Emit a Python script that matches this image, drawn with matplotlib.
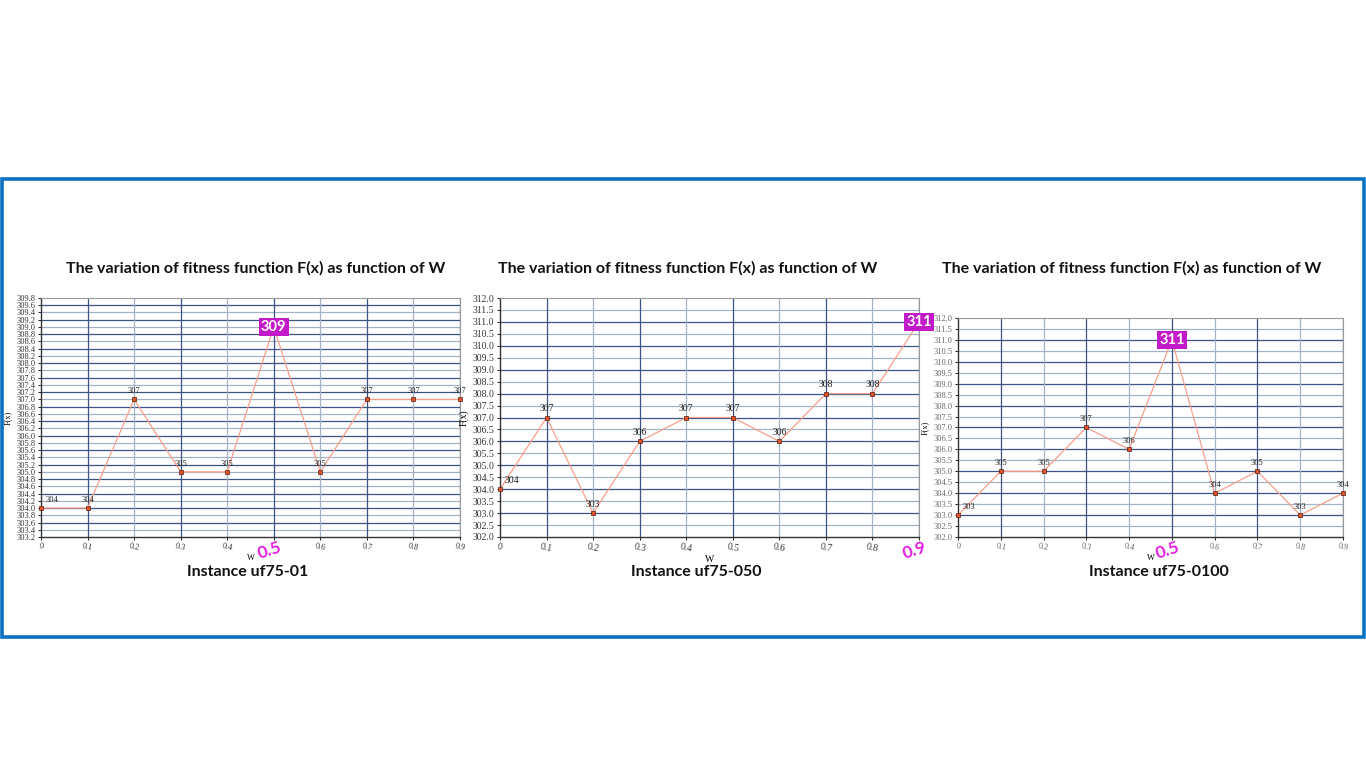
import numpy as np
import matplotlib.pyplot as plt

# data
w = [0.0, 0.1, 0.2, 0.3, 0.4, 0.5, 0.6, 0.7, 0.8, 0.9]
fx_01 = [304, 304, 307, 305, 305, 309, 305, 307, 307, 307]
fx_050 = [304, 307, 303, 306, 307, 307, 306, 308, 308, 311]
fx_0100 = [303, 305, 305, 307, 306, 311, 304, 305, 303, 304]

title = "The variation of fitness function F(x) as function of W"
instances = ["Instance uf75-01", "Instance uf75-050", "Instance uf75-0100"]
y_limits = [(303.2, 309.8), (302.0, 312.0), (302.0, 312.0)]
y_steps = [0.2, 0.5, 0.5]

W, H = 1366, 768
fig = plt.figure(figsize=(W / 100, H / 100), dpi=100)

# blue frame around the three panels
frame = plt.Rectangle((1.5 / W, 1 - 637 / H), 1362 / W, 458 / H,
                      transform=fig.transFigure, fill=False,
                      edgecolor="#0B72C0", linewidth=2.6)
fig.add_artist(frame)

# axes boxes in pixels: left, top, right, bottom
boxes = [(41, 298, 460, 537), (500, 298, 919, 537), (958, 318, 1343, 537)]
title_x = [256, 688, 1132]
inst_x = [248, 696, 1159]
tick_size = [6, 7, 6]
series = [fx_01, fx_050, fx_0100]

DARK = "#3A5585"
LIGHT = "#A3B3C5"
serif = "Liberation Serif"


def px(x, y):
    return x / W, 1 - y / H


for i, (l, t, r, b) in enumerate(boxes):
    ax = fig.add_axes([l / W, 1 - b / H, (r - l) / W, (b - t) / H])
    vals = series[i]
    lo, hi = y_limits[i]
    fs = tick_size[i]
    ax.set_xlim(0, 0.9)
    ax.set_ylim(lo, hi)

    # grid, mixing dark and light lines
    yt = np.round(np.arange(lo, hi + 1e-6, y_steps[i]), 1)
    for k, yv in enumerate(yt[1:-1]):
        ax.axhline(yv, color=DARK if k % 2 else LIGHT, lw=0.9, zorder=0)
    for k, xv in enumerate(w[1:]):
        ax.axvline(xv, color=DARK if k % 2 == 0 else LIGHT, lw=0.9, zorder=0)

    ax.plot(w, vals, color="#F7A08A", lw=0.9, zorder=2)
    ax.plot(w, vals, ls="", marker="s", ms=3.5, mfc="#E0552C",
            mec="#5A1C0C", mew=0.5, zorder=3, clip_on=False)

    best = int(np.argmax(vals))
    for k, (xv, yv) in enumerate(zip(w, vals)):
        if k == best:
            continue
        dx = 3 if k == 0 else 0
        ax.annotate(str(yv), (xv, yv), xytext=(dx, 3), textcoords="offset points",
                    ha="left" if k == 0 else "center", va="bottom",
                    fontsize=fs, family=serif, color="#222222", zorder=4)
    ax.text(w[best], vals[best], str(vals[best]), ha="center", va="center",
            fontsize=10.5, fontweight="bold", family="Lato", color="white",
            zorder=5,
            bbox=dict(boxstyle="square,pad=0.15", fc="#C21AC8", ec="none"))

    ax.set_yticks(yt)
    ax.set_yticklabels([f"{v:.1f}" for v in yt], family=serif, fontsize=fs,
                       color="#333333" if i < 2 else "#666666")
    ax.set_xticks(w)
    xlabels = [("0" if v == 0 else f"{v:.1f}") for v in w]
    best_label = xlabels[best]
    xlabels[best] = ""
    ax.set_xticklabels(xlabels, family=serif, fontsize=fs,
                       color="#333333" if i < 2 else "#666666", rotation=-12)
    ax.tick_params(length=2, width=0.6, pad=2)
    for side in ["top", "right"]:
        ax.spines[side].set_color("#999999")
        ax.spines[side].set_linewidth(0.8)
    for side in ["left", "bottom"]:
        ax.spines[side].set_color("#333333")
        ax.spines[side].set_linewidth(1.0)

    ax.set_xlabel("W", family=serif, fontsize=fs, labelpad=1)
    ax.set_ylabel("F(x)", family=serif, fontsize=fs, labelpad=3)

    # highlighted W value under the best point
    ax.annotate(best_label, (w[best], lo),
                xytext=(-3, -10), textcoords="offset points",
                ha="center", va="center", rotation=18, fontsize=12.5,
                family="Lato", fontweight="bold", color="#E21EE0")

    fig.text(*px(title_x[i], 268), title, ha="center",
             va="center", family="Lato", fontweight="bold", fontsize=11.5,
             color="#111111")
    fig.text(*px(inst_x[i], 572), instances[i], ha="center",
             va="center", family="Lato", fontweight="bold", fontsize=11.5,
             color="#111111")

fig.savefig("out.png", dpi=100, facecolor="white")
